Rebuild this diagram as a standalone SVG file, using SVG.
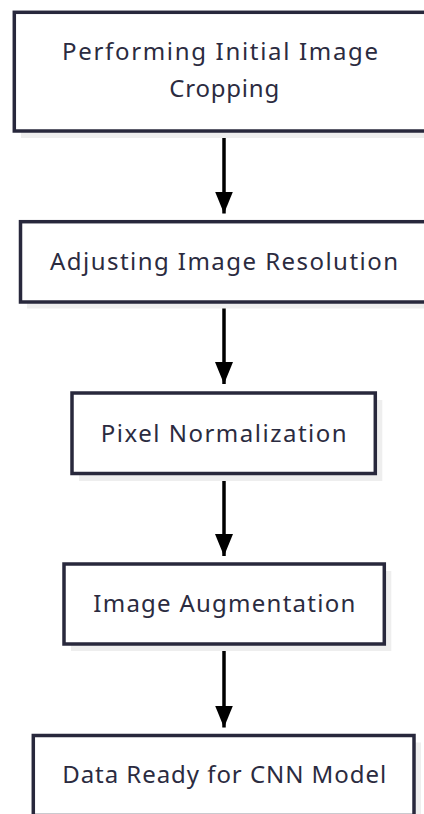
<svg xmlns="http://www.w3.org/2000/svg" width="424" height="814" viewBox="0 0 424 814">
  <defs>
    <marker id="arrow" viewBox="0 0 22 18" refX="22" refY="9" markerWidth="22" markerHeight="18" markerUnits="userSpaceOnUse" orient="auto">
      <path d="M0,0 L22,9 L0,18 Z" fill="#000"/>
    </marker>
    <style>
      .shadow { fill: #eeeeee; stroke: none; }
      .box { fill: #ffffff; stroke: #28283c; stroke-width: 3.5; }
      .label { font-family: "Noto Sans", "Open Sans", sans-serif; font-size: 24px; fill: #2b2b40; text-anchor: middle; }
      .edge { stroke: #000; stroke-width: 3.5; fill: none; marker-end: url(#arrow); }
    </style>
  </defs>

  <rect width="424" height="814" fill="#ffffff"/>

  <g id="edges">
    <line class="edge" x1="224" y1="133" x2="224" y2="213.5"/>
    <line class="edge" x1="224" y1="304" x2="224" y2="384"/>
    <line class="edge" x1="224" y1="475.5" x2="224" y2="556"/>
    <line class="edge" x1="224" y1="646" x2="224" y2="727.5"/>
  </g>

  <g id="node-crop">
    <rect class="shadow" x="21" y="19" width="419" height="119"/>
    <rect class="box" x="14.3" y="12.3" width="419" height="118.7"/>
    <text class="label" x="220" y="60" textLength="316" lengthAdjust="spacing">Performing Initial Image</text>
    <text class="label" x="224.2" y="96.5" textLength="110" lengthAdjust="spacing">Cropping</text>
  </g>

  <g id="node-resolution">
    <rect class="shadow" x="27" y="228.5" width="407" height="80"/>
    <rect class="box" x="20.5" y="221.7" width="407" height="80.3"/>
    <text class="label" x="224" y="270" textLength="348" lengthAdjust="spacing">Adjusting Image Resolution</text>
  </g>

  <g id="node-normalize">
    <rect class="shadow" x="79" y="400" width="303.3" height="81"/>
    <rect class="box" x="72" y="393" width="303.3" height="80.5"/>
    <text class="label" x="223.7" y="441.7" textLength="246" lengthAdjust="spacing">Pixel Normalization</text>
  </g>

  <g id="node-augment">
    <rect class="shadow" x="71" y="571" width="320.3" height="80"/>
    <rect class="box" x="64" y="564" width="320.3" height="80"/>
    <text class="label" x="224.3" y="612.3" textLength="262" lengthAdjust="spacing">Image Augmentation</text>
  </g>

  <g id="node-ready">
    <rect class="shadow" x="40.3" y="742.5" width="380.7" height="80"/>
    <rect class="box" x="33.3" y="735.5" width="380.7" height="80"/>
    <text class="label" x="224.2" y="783.3" textLength="324" lengthAdjust="spacing">Data Ready for CNN Model</text>
  </g>
</svg>
